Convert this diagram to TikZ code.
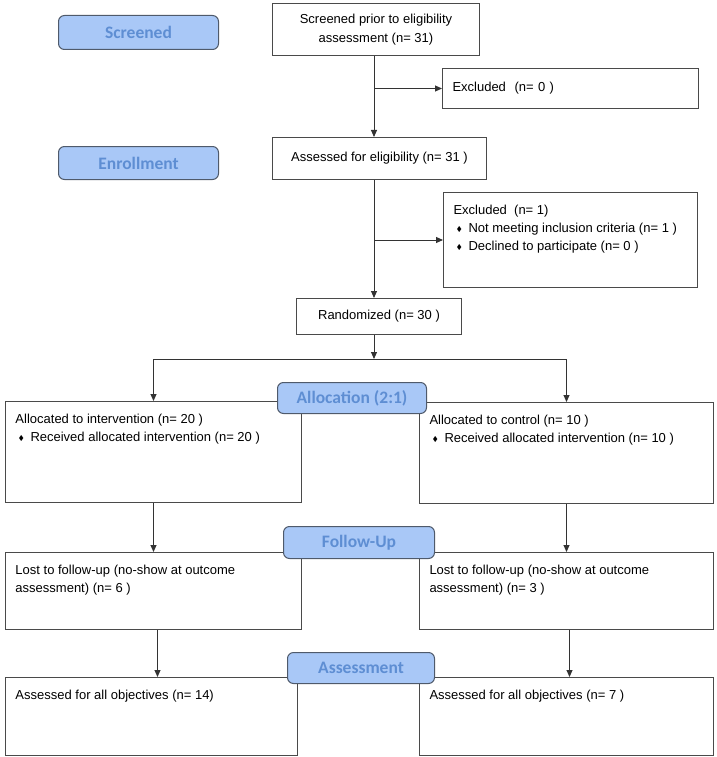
\documentclass[tikz,border=0pt]{standalone}
\usepackage{amssymb}
\usepackage{fontspec}
\setmainfont{Liberation Sans}
\newfontfamily\stagefont{Carlito}
\usetikzlibrary{arrows.meta}
\definecolor{stagefill}{HTML}{A9C8F7}
\definecolor{stagetext}{HTML}{5E8ED3}
\definecolor{stageline}{HTML}{4F5A6B}
\definecolor{boxline}{HTML}{4A4A4A}
% bullet line and top aligned box text
\newcommand{\itm}{\par\hspace*{3pt}\makebox[12pt][l]{\raisebox{1pt}{\fontsize{7}{7}\selectfont$\blacklozenge$}}}
\newcommand{\boxtext}[3]{\parbox[t][#2][t]{#1}{\raggedright\vspace*{13pt}#3}}
\begin{document}
\begin{tikzpicture}[x=1pt,y=-1pt,
  flowbox/.style={draw=boxline, line width=1pt, anchor=north west, inner sep=0pt, inner xsep=10pt, font=\fontsize{13}{18}\selectfont},
  stage/.style={draw=stageline, line width=1pt, fill=stagefill, rounded corners=6pt, anchor=north west, inner sep=0pt, text=stagetext, font=\stagefont\bfseries\fontsize{17.5}{20}\selectfont},
  link/.style={draw=black!80, line width=0.9pt, -{Triangle[length=7pt,width=6pt]}}]
\useasboundingbox (0,0) rectangle (716,757);
% enrollment column
\node[flowbox, minimum width=207pt, minimum height=52pt, align=center, font=\fontsize{13}{19}\selectfont] (scr) at (272,3) {Screened prior to eligibility\\assessment (n= 31)};
\node[flowbox, minimum width=256pt, minimum height=40pt, text width=236pt, align=left] (exc1) at (442,68) {Excluded\ \ (n= 0 )};
\node[flowbox, minimum width=214pt, minimum height=42pt, align=center] (asd) at (272,137) {Assessed for eligibility (n= 31 )};
\node[flowbox] (exc2) at (443,192) {\boxtext{234pt}{95pt}{Excluded\ \ (n= 1)\itm Not meeting inclusion criteria (n= 1 )\itm Declined to participate (n= 0 )}};
\node[flowbox, minimum width=165pt, minimum height=36pt, align=center] (rnd) at (296,298) {Randomized (n= 30 )};
% two arms
\node[flowbox] (al) at (5,401) {\boxtext{276pt}{101pt}{Allocated to intervention (n= 20 )\itm Received allocated intervention (n= 20 )}};
\node[flowbox] (ac) at (419,402) {\boxtext{274pt}{101pt}{Allocated to control (n= 10 )\itm Received allocated intervention (n= 10 )}};
\node[flowbox] (ll) at (5,552) {\boxtext{276pt}{77pt}{Lost to follow-up (no-show at outcome\\assessment) (n= 6 )}};
\node[flowbox] (lc) at (419,552) {\boxtext{274pt}{77pt}{Lost to follow-up (no-show at outcome\\assessment) (n= 3 )}};
\node[flowbox] (fl) at (5,677) {\boxtext{272pt}{78pt}{Assessed for all objectives (n= 14)}};
\node[flowbox] (fc) at (419,677) {\boxtext{274pt}{78pt}{Assessed for all objectives (n= 7 )}};
% connectors
\coordinate (trunk) at (374,0);
\coordinate (split) at (374,359);
\draw[link] (scr.south -| trunk) -- (asd.north -| trunk);
\draw[link] (trunk |- exc1.west) -- (exc1.west);
\draw[link] (asd.south -| trunk) -- (rnd.north -| trunk);
\draw[link] (trunk |- exc2.west) -- (exc2.west);
\draw[link] (rnd.south -| split) -- (split);
\draw[link] (split) -| (al.north);
\draw[link] (split) -| (ac.north);
\draw[link] (al.south) -- (ll.north);
\draw[link] (ac.south) -- (lc.north);
\draw[link] ([xshift=4pt]ll.south) -- ([xshift=4pt]ll.south |- fl.north);
\draw[link] ([xshift=3pt]lc.south) -- ([xshift=3pt]lc.south |- fc.north);
% stage labels
\node[stage, minimum width=160pt, minimum height=34pt] (scrst) at (58,15) {Screened};
\node[stage, minimum width=160pt, minimum height=33pt] (enrst) at (58,146) {Enrollment};
\node[stage, minimum width=149pt, minimum height=31pt] (allst) at (277,382) {Allocation (2:1)};
\node[stage, minimum width=151pt, minimum height=32pt] (folst) at (283,526) {Follow-Up};
\node[stage, minimum width=147pt, minimum height=31pt] (assst) at (287,652) {Assessment};
\end{tikzpicture}
\end{document}
